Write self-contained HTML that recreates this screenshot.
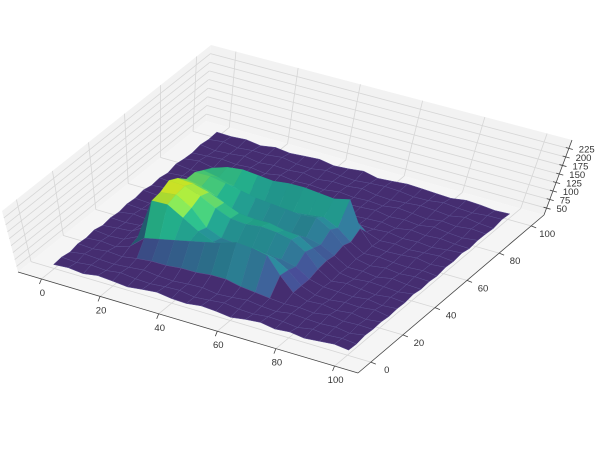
<!DOCTYPE html>
<html><head><meta charset="utf-8"><style>
html,body{margin:0;padding:0;background:#fff;}
svg{display:block;font-family:"Liberation Sans",sans-serif;}
</style></head><body>
<svg id="chart" width="600" height="450" viewBox="0 0 600 450" xmlns="http://www.w3.org/2000/svg">
<g id="panes"></g>
<g id="grid"></g>
<g id="axes"></g>
<g id="surface"></g>
</svg>
<script>
const xValues=[0,5,10,15,20,25,30,35,40,45,50,55,60,65,70,75,80,85,90,95,100];
const yValues=[0,5,10,15,20,25,30,35,40,45,50,55,60,65,70,75,80,85,90,95,100];
const xTicks=[0,20,40,60,80,100];
const yTicks=[0,20,40,60,80,100];
const zTicks=[50,75,100,125,150,175,200,225];
// heights: rows = y index, cols = x index
const Z=[
[44,48,42,50,46,41,47,52,45,43,49,46,40,47,51,44,48,42,46,50,45],
[47,43,49,45,52,46,44,48,50,42,46,51,45,43,48,46,41,49,44,47,43],
[42,50,46,44,48,53,47,45,49,51,44,47,52,46,43,50,47,45,48,42,49],
[48,45,51,47,55,60,60,65,65,70,70,60,55,50,46,48,44,51,45,47,46],
[45,49,44,60,100,110,120,130,140,150,165,160,150,100,60,47,50,44,49,43,48],
[50,44,47,70,200,200,170,140,120,115,120,130,120,95,60,45,43,48,46,51,44],
[43,48,52,80,205,210,180,130,110,105,100,100,95,85,60,49,47,45,50,44,47],
[47,45,49,85,220,215,195,170,150,145,150,145,135,110,70,46,52,47,43,48,45],
[44,51,46,80,205,200,185,165,145,140,140,130,125,100,75,50,45,49,47,44,50],
[49,46,50,70,180,170,150,125,110,105,105,100,100,90,70,47,48,43,51,46,44],
[46,43,48,65,180,180,170,160,150,145,140,135,140,115,80,52,44,50,45,49,47],
[51,47,45,60,165,155,140,120,110,105,110,115,120,100,70,48,50,46,44,47,43],
[45,50,47,55,150,165,170,165,160,165,165,160,155,165,90,50,46,48,52,45,49],
[48,44,52,50,100,120,130,130,125,120,115,110,100,90,60,46,49,44,47,50,46],
[43,47,46,49,60,70,80,75,70,65,60,60,55,50,48,51,45,47,43,48,51],
[50,45,48,44,51,47,49,46,52,45,48,50,44,47,49,43,50,46,49,45,44],
[46,52,43,47,45,50,44,48,46,51,43,47,49,52,45,48,44,51,46,43,48],
[44,47,50,46,49,43,51,45,47,44,50,46,48,45,51,47,43,49,45,50,47],
[49,43,46,51,44,48,46,50,43,49,47,52,45,43,46,50,48,44,52,46,43],
[45,50,44,48,47,52,45,43,50,46,44,48,51,49,44,45,51,47,45,49,50],
[47,46,49,43,50,45,48,51,44,47,52,43,46,50,48,46,44,50,48,44,46]
];
const XA=-8,XB=108,YA=-8,YB=108,ZA=30,ZB=250;
const FL={L:[18,272],B:[358,373],R:[544,215],K:[206,121]};
const OF={L:[-16,-61],B:[20,-75],R:[28,-75],K:[5,-76]};
function bil(c,u,v){const L=c.L,B=c.B,R=c.R,K=c.K;
 return [L[0]*(1-u)*(1-v)+B[0]*u*(1-v)+R[0]*u*v+K[0]*(1-u)*v,
         L[1]*(1-u)*(1-v)+B[1]*u*(1-v)+R[1]*u*v+K[1]*(1-u)*v];}
function P(x,y,z){const u=(x-XA)/(XB-XA),v=(y-YA)/(YB-YA),t=(z-ZA)/(ZB-ZA);
 const f=bil(FL,u,v),o=bil(OF,u,v);return [f[0]+t*o[0],f[1]+t*o[1]];}
const NS='http://www.w3.org/2000/svg';
function mk(tag,attrs,parent){const e=document.createElementNS(NS,tag);for(const k in attrs)e.setAttribute(k,attrs[k]);parent.appendChild(e);return e;}
function pts(a){return a.map(p=>p[0].toFixed(1)+','+p[1].toFixed(1)).join(' ');}
const panes=document.getElementById('panes'),grid=document.getElementById('grid'),axes=document.getElementById('axes'),surf=document.getElementById('surface');
let e;
e=mk('polygon',{points:pts([P(XA,YA,ZA),P(XA,YB,ZA),P(XA,YB,ZB),P(XA,YA,ZB)]),fill:'#f2f2f2'},panes);


e=mk('polygon',{points:pts([P(XA,YB,ZA),P(XB,YB,ZA),P(XB,YB,ZB),P(XA,YB,ZB)]),fill:'#f2f2f2'},panes);


e=mk('polygon',{points:pts([P(XA,YA,ZA),P(XB,YA,ZA),P(XB,YB,ZA),P(XA,YB,ZA)]),fill:'#f5f5f5'},panes);


function gl(a,b,name){const e=mk('line',{x1:a[0],y1:a[1],x2:b[0],y2:b[1],stroke:'#d6d6d6','stroke-width':0.8},grid);
 
 }
zTicks.forEach(z=>{gl(P(XA,YA,z),P(XA,YB,z),'left-wall-z-grid');gl(P(XA,YB,z),P(XB,YB,z),'back-wall-z-grid');});
yTicks.forEach(y=>{gl(P(XA,y,ZA),P(XA,y,ZB),'left-wall-y-grid');gl(P(XA,y,ZA),P(XB,y,ZA),'floor-y-grid');});
xTicks.forEach(x=>{gl(P(x,YB,ZA),P(x,YB,ZB),'back-wall-x-grid');gl(P(x,YA,ZA),P(x,YB,ZA),'floor-x-grid');});
function al(a,b,name){const e=mk('line',{x1:a[0],y1:a[1],x2:b[0],y2:b[1],stroke:'#444','stroke-width':0.8},axes);
 
 }
al(P(XA,YA,ZA),P(XB,YA,ZA),'x-axis-line');
al(P(XB,YA,ZA),P(XB,YB,ZA),'y-axis-line');
al(P(XB,YB,ZA),P(XB,YB,ZB),'z-axis-line');
function tx(p,s,anchor,name){const e=mk('text',{x:p[0].toFixed(1),y:p[1].toFixed(1),'font-size':9.5,fill:'#333','text-anchor':anchor},axes);e.textContent=s;
 
 }
xTicks.forEach(x=>{const p=P(x,YA,ZA);al(p,[p[0]-2,p[1]+5],'x-tick');tx([p[0]+1,p[1]+17],String(x),'middle','x-tick-label');});
yTicks.forEach(y=>{const p=P(XB,y,ZA);al(p,[p[0]+5,p[1]+2],'y-tick');tx([p[0]+16,p[1]+11],String(y),'middle','y-tick-label');});
zTicks.forEach(z=>{const p=P(XB,YB,z);al([p[0]-3,p[1]-1],[p[0]+4,p[1]+1],'z-tick');tx([p[0]+10,p[1]+4],String(z),'start','z-tick-label');});
const VIR=['#440154','#482475','#414487','#355f8d','#2a788e','#21918c','#22a884','#44bf70','#7ad151','#bddf26','#fde725'];
function hex(h){return [parseInt(h.substr(1,2),16),parseInt(h.substr(3,2),16),parseInt(h.substr(5,2),16)];}
function vir(t,k){t=Math.max(0,Math.min(1,t));const f=t*10,i=Math.min(9,Math.floor(f)),r=f-i;const a=hex(VIR[i]),b=hex(VIR[i+1]);
 return 'rgb('+[0,1,2].map(c=>Math.round(Math.min(255,(a[c]+(b[c]-a[c])*r)*k))).join(',')+')';}
const ZMIN=35,ZMAX=228;
const quads=[];
for(let j=0;j<yValues.length-1;j++)for(let i=0;i<xValues.length-1;i++)quads.push([i,j]);
quads.sort((a,b)=>(a[0]-a[1])-(b[0]-b[1]) || (a[0]+a[1])-(b[0]+b[1]));
quads.forEach(([i,j])=>{
 const z00=Z[j][i],z10=Z[j][i+1],z11=Z[j+1][i+1],z01=Z[j+1][i];
 const zm=(z00+z10+z11+z01)/4;
 const slope=((z10+z11)-(z00+z01))/2;
 const k=Math.max(0.78,Math.min(1.12,1-slope*0.004));
 const c=vir((zm-ZMIN)/(ZMAX-ZMIN),k);
 const low=zm<70;
 const e=mk('polygon',{points:pts([P(xValues[i],yValues[j],z00),P(xValues[i+1],yValues[j],z10),P(xValues[i+1],yValues[j+1],z11),P(xValues[i],yValues[j+1],z01)]),fill:low?'#452d70':c,stroke:low?'#5b4f90':c,'stroke-width':low?0.5:0.3,'stroke-linejoin':'round'},surf);
 
 
});
</script>
</body></html>
